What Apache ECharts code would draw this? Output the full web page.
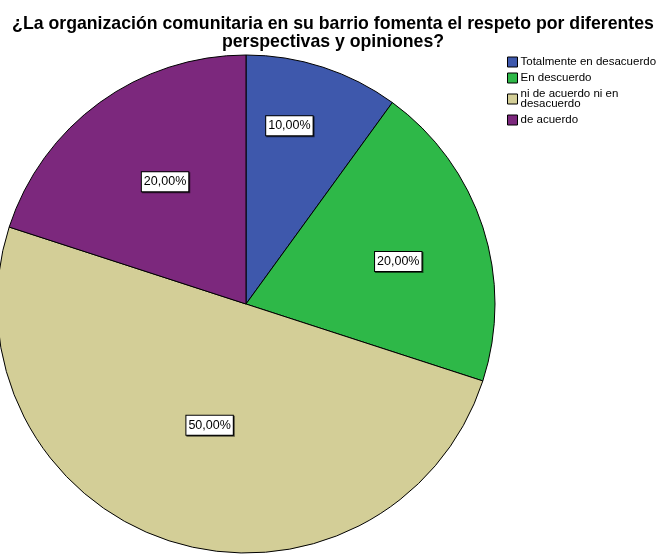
<!DOCTYPE html>
<html>
<head>
<meta charset="utf-8">
<script src="https://cdn.jsdelivr.net/npm/echarts@6/dist/echarts.min.js"></script>
<style>html,body{margin:0;padding:0;background:#fff;}#c{width:660px;height:554px;}</style>
</head>
<body>
<div id="c"></div>
<script>
var titleText = '¿La organización comunitaria en su barrio fomenta el respeto por diferentes\nperspectivas y opiniones?';
var categories = ['Totalmente en desacuerdo', 'En descuerdo', 'ni de acuerdo ni en desacuerdo', 'de acuerdo'];
var legendLabels = ['Totalmente en desacuerdo', 'En descuerdo', 'ni de acuerdo ni en\ndesacuerdo', 'de acuerdo'];
var values = [10, 20, 50, 20];
var colors = ['#3E58AC', '#2EB848', '#D3CE97', '#7C287D'];

var labelOffsets = [[4, -57], [31, -3], [3, 0], [-6, -19]];

var chart = echarts.init(document.getElementById('c'), null, {renderer: 'canvas'});
var total = values.reduce(function (a, b) { return a + b; }, 0);
var data = categories.map(function (c, i) {
  return {
    name: c,
    value: values[i],
    itemStyle: {color: colors[i]},
    label: {offset: labelOffsets[i]}
  };
});
var legendMap = {};
categories.forEach(function (c, i) { legendMap[c] = legendLabels[i]; });

chart.setOption({
  animation: false,
  backgroundColor: '#fff',
  title: {
    text: titleText,
    left: 328,
    top: 10,
    textAlign: 'center',
    textStyle: {
      fontFamily: 'Liberation Sans',
      fontSize: 17.7,
      fontWeight: 'bold',
      color: '#000',
      lineHeight: 18
    }
  },
  legend: {
    orient: 'vertical',
    left: 502,
    top: 51,
    itemWidth: 10,
    itemHeight: 10,
    itemGap: 4,
    icon: 'rect',
    itemStyle: {borderColor: '#000', borderWidth: 1},
    data: categories,
    formatter: function (n) { return legendMap[n]; },
    textStyle: {
      fontFamily: 'Liberation Sans',
      fontSize: 11.5,
      lineHeight: 10,
      color: '#000',
      padding: [0, 0, 0, -2]
    }
  },
  series: [{
    type: 'pie',
    center: [246, 304],
    radius: 249,
    startAngle: 90,
    clockwise: true,
    avoidLabelOverlap: false,
    itemStyle: {borderColor: '#000', borderWidth: 1},
    emphasis: {disabled: true},
    label: {
      show: true,
      position: 'inside',
      formatter: function (p) {
        return (p.value / total * 100).toFixed(2).replace('.', ',') + '%';
      },
      fontFamily: 'Liberation Sans',
      fontSize: 12.5,
      lineHeight: 12,
      color: '#000',
      backgroundColor: '#fff',
      borderColor: '#000',
      borderWidth: 1,
      padding: [4, 2, 3, 2],
      shadowColor: 'rgba(0,0,0,0.6)',
      shadowOffsetX: 1,
      shadowOffsetY: 1,
      shadowBlur: 0
    },
    labelLine: {show: false},
    data: data
  }]
});
</script>
</body>
</html>
